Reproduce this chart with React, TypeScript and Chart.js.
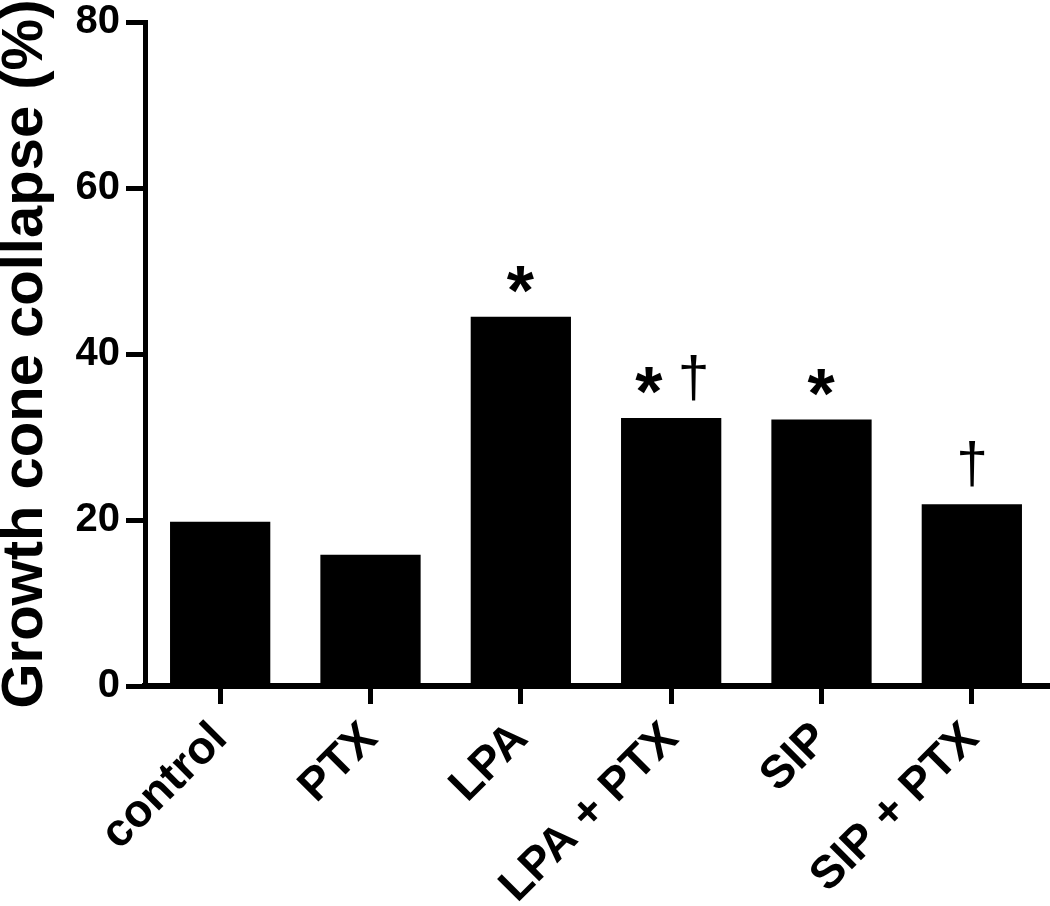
import { useEffect, useRef } from "react";
import { Chart, registerables } from "chart.js";

Chart.register(...registerables);

const categories = ["control", "PTX", "LPA", "LPA + PTX", "SIP", "SIP + PTX"];
const collapse = [19.8, 15.8, 44.5, 32.3, 32.1, 21.9];
const vsControl = [false, false, true, true, true, false]; // "*"
const vsAgonist = [false, false, false, true, false, true]; // "†"
const yMin = 0;
const yMax = 80;
const yStep = 20;
const yTitle = "Growth cone collapse (%)";

const FAMILY = "'Liberation Sans', Arial, Helvetica, sans-serif";

function drawGlyph(ctx: CanvasRenderingContext2D, ch: string, font: string, cx: number, cy: number) {
  ctx.font = font;
  ctx.textAlign = "left";
  ctx.textBaseline = "alphabetic";
  const m = ctx.measureText(ch);
  const w = m.actualBoundingBoxRight + m.actualBoundingBoxLeft;
  const h = m.actualBoundingBoxAscent + m.actualBoundingBoxDescent;
  ctx.fillText(ch, cx - w / 2 + m.actualBoundingBoxLeft, cy - h / 2 + m.actualBoundingBoxAscent);
}

const markPlugin = {
  id: "marks",
  afterDatasetsDraw(chart: any) {
    const ctx: CanvasRenderingContext2D = chart.ctx;
    const meta = chart.getDatasetMeta(0);
    ctx.save();
    ctx.fillStyle = "#000";
    meta.data.forEach((el: any, i: number) => {
      const star = vsControl[i];
      const dag = vsAgonist[i];
      const both = star && dag;
      if (star) drawGlyph(ctx, "*", `bold 70px ${FAMILY}`, el.x - (both ? 22 : 0), el.y - 37);
      if (dag) drawGlyph(ctx, "\u2020", `57px ${FAMILY}`, el.x + (both ? 22 : 0), el.y - 40);
    });
    ctx.restore();
  },
};

export default function App() {
  const ref = useRef<HTMLCanvasElement | null>(null);
  useEffect(() => {
    if (!ref.current) return;
    const chart = new Chart(ref.current, {
      type: "bar",
      data: {
        labels: categories,
        datasets: [
          {
            data: collapse,
            backgroundColor: "#000",
            borderWidth: 0,
            barPercentage: 1,
            categoryPercentage: 0.667,
          },
        ],
      },
      plugins: [markPlugin],
      options: {
        animation: false,
        responsive: true,
        maintainAspectRatio: false,
        layout: { padding: { top: 22, right: 3, left: 0, bottom: 0 } },
        plugins: { legend: { display: false }, tooltip: { enabled: false } },
        scales: {
          x: {
            offset: true,
            afterFit(scale: any) {
              scale.height = 220;
            },
            grid: {
              offset: false,
              drawOnChartArea: false,
              drawTicks: true,
              tickLength: 18,
              tickWidth: 5,
              tickColor: "#000",
              lineWidth: 5,
              color: "#000",
            },
            border: { display: true, width: 6, color: "#000" },
            ticks: {
              color: "#000",
              font: { family: FAMILY, size: 46, weight: "bold" },
              maxRotation: 45,
              minRotation: 45,
              padding: 8,
              autoSkip: false,
            },
          },
          y: {
            min: yMin,
            max: yMax,
            afterFit(scale: any) {
              scale.width = 145;
            },
            grid: {
              drawOnChartArea: false,
              drawTicks: true,
              tickLength: 19,
              tickWidth: 5,
              tickColor: "#000",
              lineWidth: 5,
              color: "#000",
            },
            border: { display: true, width: 5, color: "#000" },
            ticks: {
              stepSize: yStep,
              color: "#000",
              font: { family: FAMILY, size: 40, weight: "bold", lineHeight: 0.8 },
              padding: 6,
            },
            title: {
              display: true,
              text: yTitle,
              color: "#000",
              font: { family: FAMILY, size: 58, weight: "bold", lineHeight: 0.9 },
              padding: { top: 0, bottom: 0 },
            },
          },
        },
      },
    });
    return () => chart.destroy();
  }, []);
  return (
    <div style={{ position: "absolute", left: 0, top: 0, width: 1050, height: 906, background: "#fff" }}>
      <canvas ref={ref} />
    </div>
  );
}
